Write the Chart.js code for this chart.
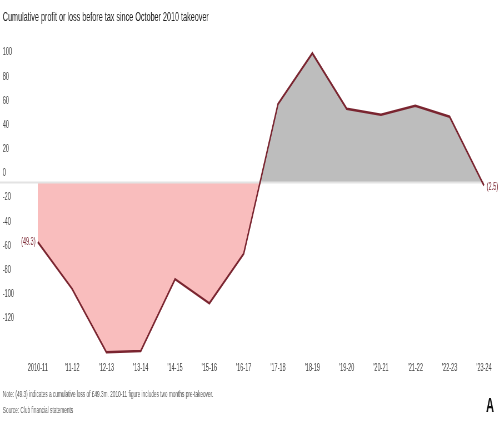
<!DOCTYPE html>
<html>
<head>
<meta charset="utf-8">
<script src="https://cdn.jsdelivr.net/npm/chart.js@4.4.1/dist/chart.umd.min.js"></script>
<style>
  html, body { margin: 0; padding: 0; background: #fff; overflow: hidden; }
  /* the original graphic is squeezed sideways, so draw wide and compress */
  #wrap { width: 900px; height: 440px; transform: scaleX(0.5556); transform-origin: 0 0; }
</style>
</head>
<body>
<div id="wrap"><canvas id="profitChart"></canvas></div>
<script>
// Seasons on the x axis
const seasons = ['2010-11', "'11-12", "'12-13", "'13-14", "'14-15", "'15-16", "'16-17",
                 "'17-18", "'18-19", "'19-20", "'20-21", "'21-22", "'22-23", "'23-24"];

// Cumulative profit / loss before tax, £m
const cumulative = [-49.3, -88, -140.5, -139.5, -80, -100, -59, 65, 107, 61, 56, 63.5, 54.5, -2.5];

// Y axis tick values
const yTicks = [100, 80, 60, 40, 20, 0, -20, -40, -60, -80, -100, -120];

// Labels written next to the first and last points
const endLabels = ['(49.3)', '(2.5)'];

const titleText = 'Cumulative profit or loss before tax since October 2010 takeover';
const noteLines = [
    'Note: (49.3) indicates a cumulative loss of £49.3m. 2010-11 figure includes two months pre-takeover.',
    'Source: Club financial statements'
];

const family = '"Liberation Sans", Arial, sans-serif';
const lineColor = '#7a2530';

// zero line, end labels and logo
const extras = {
    id: 'extras',
    beforeDatasetsDraw(chart) {
        const { ctx, chartArea, scales } = chart;
        const y0 = scales.y.getPixelForValue(0);
        ctx.save();
        ctx.strokeStyle = '#e3e3e3';
        ctx.lineWidth = 2;
        ctx.beginPath();
        ctx.moveTo(0, y0);
        ctx.lineTo(chartArea.right, y0);
        ctx.stroke();
        ctx.restore();
    },
    afterDraw(chart) {
        const { ctx, width, height } = chart;
        const pts = chart.getDatasetMeta(0).data;
        const first = pts[0];
        const last = pts[pts.length - 1];
        ctx.save();
        ctx.font = '10px ' + family;
        ctx.fillStyle = lineColor;
        ctx.textBaseline = 'middle';
        ctx.textAlign = 'right';
        ctx.fillText(endLabels[0], first.x - 4, first.y);
        ctx.textAlign = 'left';
        ctx.fillText(endLabels[1], last.x + 5, last.y + 2);

        // publisher mark
        ctx.fillStyle = '#111';
        ctx.font = 'bold 20px ' + family;
        ctx.textAlign = 'center';
        ctx.fillText('A', width - 18, height - 34);
        ctx.restore();
    }
};

new Chart(document.getElementById('profitChart'), {
    type: 'line',
    data: {
        labels: seasons,
        datasets: [{
            data: cumulative,
            borderColor: lineColor,
            borderWidth: 2.5,
            pointRadius: 0,
            tension: 0,
            fill: { target: 'origin', above: '#bdbdbd', below: '#f9bdbd' }
        }]
    },
    options: {
        responsive: true,
        maintainAspectRatio: false,
        animation: false,
        layout: { padding: { left: 5, right: 29, top: 0, bottom: 0 } },
        plugins: {
            legend: { display: false },
            tooltip: { enabled: false },
            filler: { drawTime: 'beforeDatasetsDraw' },
            title: {
                display: true,
                text: titleText,
                align: 'start',
                color: '#222',
                font: { size: 13, weight: 'normal', family: family },
                padding: { top: 10, bottom: 24 }
            },
            subtitle: {
                display: true,
                position: 'bottom',
                align: 'start',
                text: noteLines,
                color: '#555',
                font: { size: 8.5, family: family, lineHeight: 1.9 },
                padding: { top: 7, bottom: 21 }
            }
        },
        scales: {
            x: {
                grid: { display: false, drawTicks: false },
                border: { display: false },
                ticks: {
                    color: '#444',
                    font: { size: 10, family: family },
                    padding: 5,
                    maxRotation: 0,
                    autoSkip: false
                }
            },
            y: {
                min: -145,
                max: 110,
                grid: { display: false, drawTicks: false },
                border: { display: false },
                afterBuildTicks: function (scale) {
                    scale.ticks = yTicks.map(v => ({ value: v }));
                },
                afterFit: function (scale) {
                    scale.width = 63;
                },
                ticks: {
                    color: '#444',
                    font: { size: 10, family: family },
                    crossAlign: 'far',
                    labelOffset: -9
                }
            }
        }
    },
    plugins: [extras]
});
</script>
</body>
</html>
